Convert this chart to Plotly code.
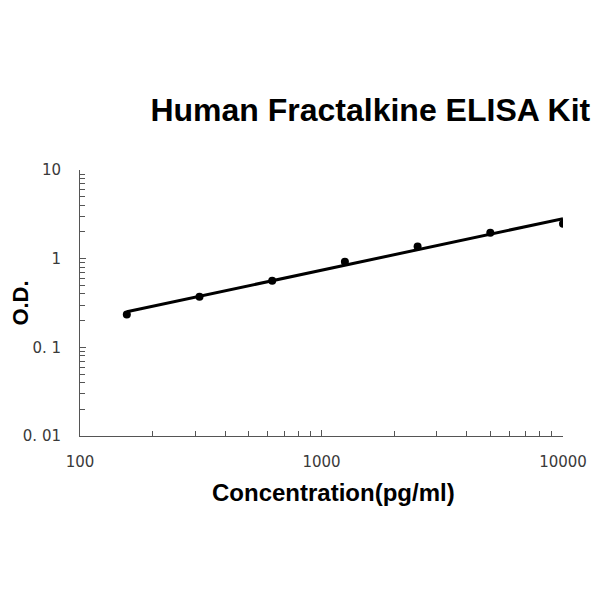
import numpy as np
import plotly.graph_objects as go

conc = [156.25, 312.5, 625, 1250, 2500, 5000, 10000]
od = [0.234, 0.373, 0.565, 0.925, 1.37, 1.96, 2.48]

y_tickvals = [0.01, 0.1, 1, 10]
y_ticktext = ["0. 01", "0. 1", "1", "10"]
x_tickvals = [100, 1000, 10000]
x_ticktext = ["100", "1000", "10000"]

# log-log linear fit for the standard curve
coef = np.polyfit(np.log10(conc), np.log10(od), 1)
fx = np.logspace(np.log10(conc[0]), np.log10(conc[-1]), 50)
fy = 10 ** np.polyval(coef, np.log10(fx))

fig = go.Figure()
fig.add_trace(go.Scatter(x=fx, y=fy, mode="lines",
                         line=dict(color="black", width=3), showlegend=False))
fig.add_trace(go.Scatter(x=conc, y=od, mode="markers",
                         marker=dict(color="black", size=8), showlegend=False))

tickfont = dict(family="DejaVu Sans", size=15, color="#3a3a3a")
fig.update_layout(
    width=592, height=592,
    paper_bgcolor="white", plot_bgcolor="white",
    margin=dict(l=72, r=37, t=162, b=164, autoexpand=False),
    title=dict(text="<b>Human Fractalkine ELISA Kit</b>", x=0.612, xanchor="center",
               y=0.828, yanchor="middle",
               font=dict(family="Liberation Sans", size=32, color="black")),
    xaxis=dict(type="log", range=[2, 4], tickvals=x_tickvals, ticktext=x_ticktext,
               automargin=False,
               showline=True, linecolor="#555", linewidth=1, ticks="inside",
               ticklen=6, tickcolor="#555", showgrid=False, zeroline=False,
               tickfont=tickfont, ticklabelstandoff=12,
               minor=dict(ticks="inside", ticklen=5, tickcolor="#555", dtick="D1", showgrid=False)),
    yaxis=dict(type="log", range=[-2, 1], tickvals=y_tickvals, ticktext=y_ticktext,
               automargin=False,
               showline=True, linecolor="#555", linewidth=1, ticks="inside",
               ticklen=6, tickcolor="#555", showgrid=False, zeroline=False,
               tickfont=tickfont, ticklabelstandoff=15,
               minor=dict(ticks="inside", ticklen=5, tickcolor="#555", dtick="D1", showgrid=False),
               title=dict(text="<b>O.D.</b>", standoff=2,
                          font=dict(family="Liberation Sans", size=22, color="black"))),
    annotations=[dict(text="<b>Concentration(pg/ml)</b>", xref="paper", yref="paper",
                      x=0.524, y=0, xanchor="center", yanchor="middle", yshift=-56,
                      showarrow=False,
                      font=dict(family="Liberation Sans", size=24, color="black"))],
)
fig.write_html("out.html")
